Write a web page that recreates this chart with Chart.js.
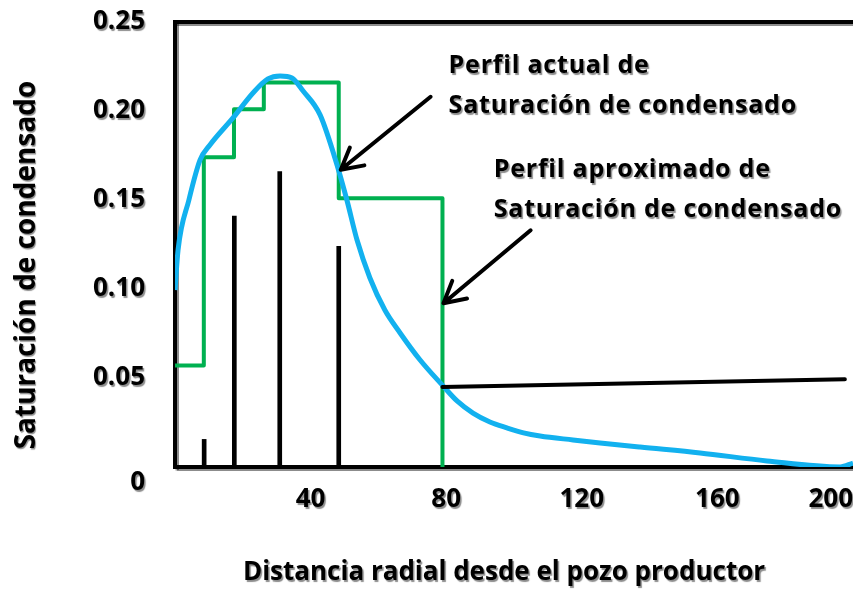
<!DOCTYPE html>
<html>
<head>
<meta charset="utf-8">
<script src="https://cdn.jsdelivr.net/npm/chart.js@4.4.1/dist/chart.umd.min.js"></script>
<style>
  html, body { margin: 0; padding: 0; background: #fff; overflow: hidden; }
  #wrap { width: 853px; height: 589px; }
</style>
</head>
<body>
<div id="wrap"><canvas id="c" width="853" height="589"></canvas></div>
<script>
// Actual condensate saturation profile (smooth curve)
const actualX = [0, 0.9, 4.1, 7.4, 10.3, 17.1, 23.0, 27.4, 31.0, 34.5, 37.8, 42.8, 47.8, 50.7, 53.7, 57.5, 61.9, 66.4, 72.3, 78.8, 83.2, 87.9, 92.9, 97.9, 102.8, 107.7, 117.4, 125.4, 137.2, 154.9, 174.6, 196.2, 200];
const actualY = [0.0994, 0.1219, 0.150, 0.1725, 0.1809, 0.1961, 0.2101, 0.218, 0.2197, 0.2185, 0.2112, 0.1978, 0.1697, 0.150, 0.1275, 0.1062, 0.0882, 0.0753, 0.0601, 0.0461, 0.0371, 0.0303, 0.0253, 0.0220, 0.0192, 0.0174, 0.0152, 0.0135, 0.0112, 0.0079, 0.0034, 0, 0.0022];

// Approximated profile (step function)
const stepX = [0, 8.5, 17.4, 26.2, 48.3, 78.9];
const stepY = [0.057, 0.174, 0.201, 0.216, 0.151, 0];

// Vertical black markers
const markerX = [8.6, 17.5, 30.9, 48.3];
const markerY = [0.0155, 0.141, 0.166, 0.124];

// Leader line in the lower right
const leaderX = [78.9, 197.6];
const leaderY = [0.045, 0.0493];

// Axis ticks
const xTickValues = [0, 40, 80, 120, 160, 200];
const xTickLabels = ['', '40', '80', '120', '160', '200'];
const yTickValues = [0, 0.05, 0.10, 0.15, 0.20, 0.25];
const yTickLabels = ['0', '0.05', '0.10', '0.15', '0.20', '0.25'];

// Callout arrows (tail -> tip, data units)
const arrowTailX = [75.4, 104.9];
const arrowTailY = [0.208, 0.133];
const arrowTipX = [48.9, 79.2];
const arrowTipY = [0.167, 0.092];

// Callout texts, anchored at their left edge
const noteX = [80.7, 94.0];
const noteY = [0.2253, 0.1669];
const noteLines = [
  ['Perfil actual de', 'Saturación de condensado'],
  ['Perfil aproximado de', 'Saturación de condensado']
];

const xTitle = 'Distancia radial desde el pozo productor';
const yTitle = 'Saturación de condensado';

const FONT = '"Open Sans", Lato, sans-serif';

function zip(xs, ys) { return xs.map((v, i) => ({ x: v, y: ys[i] })); }

function setShadow(ctx) {
  ctx.shadowColor = 'rgba(0,0,0,0.45)';
  ctx.shadowOffsetX = 1.5;
  ctx.shadowOffsetY = 1.5;
  ctx.shadowBlur = 1;
}

// Keep the plot area flush with the canvas edges
function noPadding(s) {
  s.paddingTop = 0; s.paddingBottom = 0; s.paddingLeft = 0; s.paddingRight = 0;
}

const callouts = {
  id: 'callouts',
  beforeDraw(chart) {
    chart.ctx.save();
    setShadow(chart.ctx);
  },
  beforeDatasetsDraw(chart) {
    chart.ctx.restore();
  },
  afterDatasetsDraw(chart) {
    const { ctx, scales: { x, y } } = chart;
    ctx.save();
    // arrows
    ctx.strokeStyle = '#000';
    ctx.lineWidth = 4;
    ctx.lineCap = 'round';
    ctx.lineJoin = 'round';
    for (let i = 0; i < arrowTailX.length; i++) {
      const x0 = x.getPixelForValue(arrowTailX[i]);
      const y0 = y.getPixelForValue(arrowTailY[i]);
      const x1 = x.getPixelForValue(arrowTipX[i]);
      const y1 = y.getPixelForValue(arrowTipY[i]);
      const ang = Math.atan2(y0 - y1, x0 - x1);
      const len = 24, spread = 0.5;
      ctx.beginPath();
      ctx.moveTo(x0, y0);
      ctx.lineTo(x1, y1);
      ctx.moveTo(x1 + len * Math.cos(ang - spread), y1 + len * Math.sin(ang - spread));
      ctx.lineTo(x1, y1);
      ctx.lineTo(x1 + len * Math.cos(ang + spread), y1 + len * Math.sin(ang + spread));
      ctx.stroke();
    }
    // callout texts
    setShadow(ctx);
    ctx.fillStyle = '#000';
    ctx.font = 'bold 25px ' + FONT;
    ctx.letterSpacing = '0.8px';
    ctx.textAlign = 'left';
    ctx.textBaseline = 'middle';
    for (let i = 0; i < noteLines.length; i++) {
      const px = x.getPixelForValue(noteX[i]);
      const py = y.getPixelForValue(noteY[i]);
      noteLines[i].forEach((t, k) => ctx.fillText(t, px, py + k * 40));
    }
    ctx.letterSpacing = '0px';
    // axis titles
    ctx.font = 'bold 26px ' + FONT;
    ctx.textAlign = 'center';
    ctx.fillText(xTitle, 504, 573);
    ctx.save();
    ctx.translate(27, 265);
    ctx.rotate(-Math.PI / 2);
    ctx.font = 'bold 28px ' + FONT;
    ctx.fillText(yTitle, 0, 0);
    ctx.restore();
    ctx.restore();
  }
};

new Chart(document.getElementById('c'), {
  type: 'line',
  data: {
    datasets: [
      {
        label: 'Perfil actual',
        data: zip(actualX, actualY),
        borderColor: '#12b1ef',
        borderWidth: 5,
        pointRadius: 0,
        cubicInterpolationMode: 'monotone',
        order: 1
      },
      {
        label: 'Perfil aproximado',
        data: zip(stepX, stepY),
        borderColor: '#00b050',
        borderWidth: 4,
        pointRadius: 0,
        stepped: true,
        borderJoinStyle: 'round',
        order: 2
      },
      {
        type: 'bar',
        label: 'Marcas',
        data: zip(markerX, markerY),
        backgroundColor: '#000',
        barThickness: 4,
        order: 3
      },
      {
        label: 'Guía',
        data: zip(leaderX, leaderY),
        borderColor: '#000',
        borderWidth: 4,
        pointRadius: 0,
        borderCapStyle: 'round',
        order: 0
      }
    ]
  },
  options: {
    responsive: false,
    devicePixelRatio: 1,
    animation: false,
    layout: { padding: 0 },
    plugins: { legend: { display: false }, tooltip: { enabled: false } },
    scales: {
      x: {
        type: 'linear',
        position: 'bottom',
        min: 0,
        max: 200,
        offset: false,
        grid: { display: false, drawTicks: false },
        border: { display: true, color: '#000', width: 4 },
        afterBuildTicks: s => { s.ticks = xTickValues.map(v => ({ value: v })); },
        afterFit: s => { s.height = 122; noPadding(s); },
        ticks: {
          align: 'inner',
          padding: 17,
          color: '#000',
          font: { family: FONT, size: 26, weight: 'bold' },
          callback: (v) => xTickLabels[xTickValues.indexOf(v)]
        }
      },
      xTop: {
        type: 'linear',
        position: 'top',
        min: 0,
        max: 200,
        grid: { display: false, drawTicks: false },
        border: { display: true, color: '#000', width: 4 },
        ticks: { display: false },
        afterFit: s => { s.height = 22; noPadding(s); }
      },
      y: {
        type: 'linear',
        min: 0,
        max: 0.25,
        grid: { display: false, drawTicks: false },
        border: { display: true, color: '#000', width: 4 },
        afterBuildTicks: s => { s.ticks = yTickValues.map(v => ({ value: v })); },
        afterFit: s => { s.width = 175; noPadding(s); },
        ticks: {
          padding: 30,
          color: '#000',
          font: { family: FONT, size: 26, weight: 'bold' },
          // the zero label sits a half line below the axis
          callback: (v) => {
            const t = yTickLabels[yTickValues.indexOf(v)];
            return v === 0 ? ['', t] : t;
          }
        }
      }
    }
  },
  plugins: [callouts]
});
</script>
</body>
</html>
